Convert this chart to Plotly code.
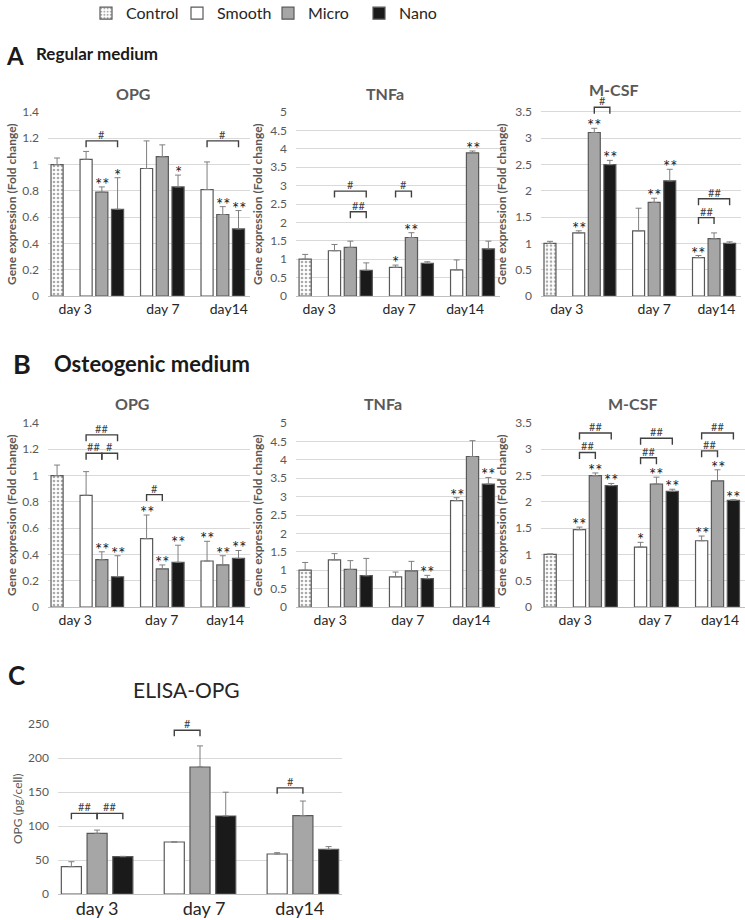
import plotly.graph_objects as go

W, H = 745, 920

days = ["day 3", "day 7", "day14"]
groups = ["Smooth", "Micro", "Nano"]

# control (day 3 only) per gene panel: A-OPG, A-TNFa, A-MCSF, B-OPG, B-TNFa, B-MCSF
ctrl_mean = [1.0, 1.0, 1.0, 1.0, 1.0, 1.0]
ctrl_err = [0.05, 0.13, 0.04, 0.08, 0.21, 0.01]

# rows: Smooth, Micro, Nano / columns: day 3, day 7, day14
a_opg = [[1.04, 0.97, 0.81], [0.79, 1.06, 0.62], [0.66, 0.83, 0.51]]
a_opg_err = [[0.06, 0.21, 0.21], [0.04, 0.09, 0.06], [0.24, 0.09, 0.14]]
a_tnfa = [[1.23, 0.78, 0.71], [1.32, 1.59, 3.89], [0.70, 0.89, 1.28]]
a_tnfa_err = [[0.17, 0.06, 0.27], [0.17, 0.13, 0.05], [0.20, 0.04, 0.21]]
a_mcsf = [[1.20, 1.24, 0.73], [3.11, 1.78, 1.09], [2.50, 2.19, 1.00]]
a_mcsf_err = [[0.04, 0.43, 0.04], [0.08, 0.08, 0.11], [0.08, 0.22, 0.03]]

b_opg = [[0.85, 0.52, 0.35], [0.36, 0.29, 0.32], [0.23, 0.34, 0.37]]
b_opg_err = [[0.18, 0.18, 0.15], [0.06, 0.03, 0.07], [0.16, 0.13, 0.06]]
b_tnfa = [[1.28, 0.82, 2.89], [1.02, 0.98, 4.09], [0.85, 0.77, 3.34]]
b_tnfa_err = [[0.17, 0.13, 0.08], [0.24, 0.26, 0.43], [0.47, 0.09, 0.18]]
b_mcsf = [[1.47, 1.14, 1.26], [2.50, 2.34, 2.40], [2.31, 2.20, 2.03]]
b_mcsf_err = [[0.05, 0.09, 0.09], [0.05, 0.13, 0.21], [0.04, 0.04, 0.01]]

elisa = [[40.2, 76.5, 58.8], [89.2, 186.8, 115.2], [54.9, 114.7, 65.7]]
elisa_err = [[7.3, 0.0, 2.0], [4.8, 31.0, 21.5], [0.5, 35.0, 4.0]]

# significance vs control
a_opg_stars = [["", "", ""], ["**", "", "**"], ["*", "*", "**"]]
a_tnfa_stars = [["", "*", ""], ["", "**", "**"], ["", "", ""]]
a_mcsf_stars = [["**", "", "**"], ["**", "**", ""], ["**", "**", ""]]
b_opg_stars = [["", "**", "**"], ["**", "**", "**"], ["**", "**", "**"]]
b_tnfa_stars = [["", "", "**"], ["", "", ""], ["", "**", "**"]]
b_mcsf_stars = [["**", "*", "**"], ["**", "**", "**"], ["**", "**", "**"]]
no_stars = [["", "", ""], ["", "", ""], ["", "", ""]]

# brackets between groups: (day, group a, group b, height, label)
a_opg_br = [(0, 0, 2, 1.18, "#"), (2, 0, 2, 1.18, "#")]
a_tnfa_br = [(0, 0, 2, 2.85, "#"), (0, 1, 2, 2.29, "##"), (1, 0, 1, 2.85, "#")]
a_mcsf_br = [(0, 1, 2, 3.59, "#"), (2, 0, 2, 1.85, "##"), (2, 0, 1, 1.49, "##")]
b_opg_br = [(0, 0, 2, 1.31, "##"), (0, 0, 1, 1.17, "##"), (0, 1, 2, 1.17, "#"),
            (1, 0, 1, 0.855, "#")]
b_tnfa_br = []
b_mcsf_br = [(0, 0, 2, 3.31, "##"), (0, 0, 1, 2.94, "##"), (1, 0, 2, 3.21, "##"),
             (1, 0, 1, 2.84, "##"), (2, 0, 2, 3.31, "##"), (2, 0, 1, 2.97, "##")]
elisa_br = [(0, 0, 1, 118.6, "##"), (0, 1, 2, 118.6, "##"), (1, 0, 1, 240.7, "#"),
            (2, 0, 1, 156, "#")]

FONT = "Lato"
GRID = "#d9d9d9"
EDGE = "#595959"
fills = {"Smooth": "white", "Micro": "#a6a6a6", "Nano": "#1a1a1a"}

fig = go.Figure()
annos = []
shapes = []
layout_axes = {}


def px_x(p):
    return p / W


def px_y(p):
    return 1 - p / H


def add_panel(n, means, errs, stars, brackets, ctrl, xpx, ypx, ymax, dtick,
              xrange, offsets, width, ctrl_x, tickpos, tick_size, legend, standoff=0):
    ax = "" if n == 1 else str(n)
    xa, ya = "x" + ax, "y" + ax
    leg = 0.035 * ymax
    rtop = max([ymax] + [b[3] + 0.02 * ymax for b in brackets])
    top_px = ypx[1] - (ypx[1] - ypx[0]) * rtop / ymax

    if ctrl is not None:
        fig.add_trace(go.Bar(
            name="Control", x=[0], y=[ctrl[0]], xaxis=xa, yaxis=ya,
            offset=ctrl_x - width / 2, width=width, showlegend=legend,
            marker=dict(color="white", line=dict(color=EDGE, width=1.2),
                        pattern=dict(shape=".", size=4, solidity=0.35,
                                     fgcolor="#555555", bgcolor="white")),
            error_y=dict(type="data", symmetric=False, array=[ctrl[1]], arrayminus=[0],
                         color="#7f7f7f", thickness=1, width=3)))
    for k, g in enumerate(groups):
        fig.add_trace(go.Bar(
            name=g, x=[0, 1, 2], y=means[k], xaxis=xa, yaxis=ya,
            offset=offsets[k] - width / 2, width=width, showlegend=legend,
            marker=dict(color=fills[g], line=dict(color=EDGE, width=1.2)),
            error_y=dict(type="data", symmetric=False, array=errs[k], arrayminus=[0, 0, 0],
                         color="#7f7f7f", thickness=1, width=3)))
        for d in range(3):
            if stars[k][d]:
                annos.append(dict(x=d + offsets[k], y=means[k][d] + errs[k][d], xref=xa, yref=ya,
                                  text=stars[k][d], showarrow=False, yanchor="bottom", yshift=-10,
                                  font=dict(family=FONT, size=17, color="#1a1a1a")))
    for d, a, b, y, lab in brackets:
        x1, x2 = d + offsets[a], d + offsets[b]
        shapes.append(dict(type="path", xref=xa, yref=ya,
                           path=f"M{x1},{y - leg} L{x1},{y} L{x2},{y} L{x2},{y - leg}",
                           line=dict(color="#404040", width=1.4)))
        annos.append(dict(x=(x1 + x2) / 2, y=y, xref=xa, yref=ya, text=lab, showarrow=False,
                          yanchor="bottom", yshift=-2,
                          font=dict(family=FONT, size=11, color="#404040")))

    layout_axes["xaxis" + ax] = dict(
        domain=[px_x(xpx[0]), px_x(xpx[1])], range=xrange, anchor=ya, automargin=False,
        tickmode="array", tickvals=tickpos, ticktext=days, showgrid=False, zeroline=False,
        showline=True, linecolor="#bfbfbf", linewidth=1, ticks="", ticklabelstandoff=standoff,
        tickfont=dict(family=FONT, size=tick_size, color="#262626"))
    layout_axes["yaxis" + ax] = dict(
        domain=[px_y(ypx[1]), px_y(top_px)], range=[0, rtop], anchor=xa, automargin=False,
        tick0=0, dtick=dtick, showgrid=True, gridcolor=GRID, gridwidth=1, zeroline=False,
        showline=False, ticks="", ticklabelstandoff=8,
        tickfont=dict(family=FONT, size=12, color="#595959"))


gene_off = [-0.26, 0.0, 0.26]
gene_xr = [-0.89, 2.45]
row_a = (112, 296)
row_b = (423, 607)

add_panel(1, a_opg, a_opg_err, a_opg_stars, a_opg_br, (ctrl_mean[0], ctrl_err[0]),
          (48, 250), row_a, 1.4, 0.2, gene_xr, gene_off, 0.2, -0.74,
          [-0.44, 1.01, 2.1], 14, True)
add_panel(2, a_tnfa, a_tnfa_err, a_tnfa_stars, a_tnfa_br, (ctrl_mean[1], ctrl_err[1]),
          (296, 500), row_a, 5, 0.5, gene_xr, gene_off, 0.2, -0.74,
          [-0.51, 0.8, 1.88], 14, False)
add_panel(3, a_mcsf, a_mcsf_err, a_mcsf_stars, a_mcsf_br, (ctrl_mean[2], ctrl_err[2]),
          (541, 741), row_a, 3.5, 0.5, gene_xr, gene_off, 0.2, -0.74,
          [-0.46, 1.0, 2.04], 14, False)
add_panel(4, b_opg, b_opg_err, b_opg_stars, b_opg_br, (ctrl_mean[3], ctrl_err[3]),
          (48, 250), row_b, 1.4, 0.2, gene_xr, gene_off, 0.2, -0.74,
          [-0.44, 0.99, 2.04], 14, False)
add_panel(5, b_tnfa, b_tnfa_err, b_tnfa_stars, b_tnfa_br, (ctrl_mean[4], ctrl_err[4]),
          (296, 500), row_b, 5, 0.5, gene_xr, gene_off, 0.2, -0.74,
          [-0.33, 0.94, 1.98], 14, False)
add_panel(6, b_mcsf, b_mcsf_err, b_mcsf_stars, b_mcsf_br, (ctrl_mean[5], ctrl_err[5]),
          (541, 745), row_b, 3.5, 0.5, gene_xr, gene_off, 0.2, -0.74,
          [-0.33, 0.98, 2.04], 14, False)
add_panel(7, elisa, elisa_err, no_stars, elisa_br, None,
          (58, 342), (724, 894), 250, 50, [-0.38, 2.38], [-0.25, 0.0, 0.25], 0.195, 0,
          [0, 1.04, 1.97], 18, False, standoff=-2)


def text(x, y, s, size, bold=False, color="#1a1a1a", anchor="left", angle=0):
    annos.append(dict(x=px_x(x), y=px_y(y), xref="paper", yref="paper", showarrow=False,
                      text=f"<b>{s}</b>" if bold else s, xanchor=anchor, yanchor="middle",
                      textangle=angle, font=dict(family=FONT, size=size, color=color)))


text(4, 55, "A", 24, True)
text(34, 54, "Regular medium", 17, True)
text(11, 363, "B", 27, True)
text(52, 363, "Osteogenic medium", 22, True)
text(6, 675, "C", 26, True)
text(186, 689, "ELISA-OPG", 21, color="#262626", anchor="center")

for (x, y, s) in [(133, 94, "OPG"), (385, 94, "TNFa"), (614, 89, "M-CSF"),
                  (132, 403, "OPG"), (383, 403, "TNFa"), (633, 403, "M-CSF")]:
    text(x, y, s, 16, True, "#595959", "center")

for x in (11, 257, 501):
    for y in (204, 515):
        text(x, y, "Gene expression (Fold change)", 12, True, "#595959", "center", -90)
text(17, 809, "OPG (pg/cell)", 12, False, "#595959", "center", -90)

fig.update_layout(
    width=W, height=H, margin=dict(l=0, r=0, t=0, b=0, autoexpand=False),
    paper_bgcolor="white", plot_bgcolor="white", barmode="overlay",
    font=dict(family=FONT, color="#262626"),
    legend=dict(orientation="h", x=86 / W, xanchor="left", y=1.004, yanchor="top",
                font=dict(family=FONT, size=16, color="#262626"), itemwidth=30,
                entrywidth=46, bgcolor="rgba(0,0,0,0)"),
    annotations=annos, shapes=shapes, **layout_axes)

# the page body has a default margin; drop it so the figure sits at the window corner
fig.write_html("out.html", config={"displayModeBar": False},
               post_script="document.documentElement.style.margin='0';"
               "document.body.style.margin='0';document.body.style.padding='0';")
